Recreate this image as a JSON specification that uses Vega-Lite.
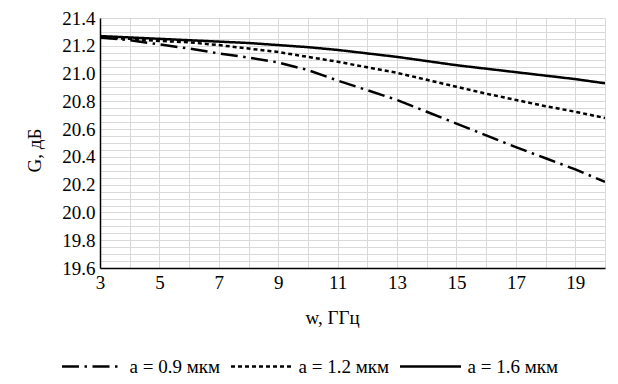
{
  "$schema": "https://vega.github.io/schema/vega-lite/v6.json",
  "width": 505,
  "height": 250,
  "autosize": {"type": "none"},
  "padding": {"left": 100, "top": 18, "right": 13, "bottom": 116},
  "background": "white",
  "config": {
    "view": {"stroke": null},
    "font": "Liberation Serif",
    "axis": {
      "labelFont": "Liberation Serif",
      "labelFontSize": 19,
      "labelColor": "black",
      "titleFont": "Liberation Serif",
      "titleFontSize": 19,
      "titleFontWeight": "normal",
      "titleColor": "black",
      "ticks": false,
      "gridColor": "#d9d9d9",
      "gridWidth": 1,
      "gridOpacity": 1,
      "domainColor": "black",
      "domainWidth": 1.5
    },
    "legend": {
      "labelFont": "Liberation Serif",
      "labelFontSize": 19,
      "labelColor": "black"
    }
  },
  "data": {
    "values": [
      {"w": 3, "G": 21.26, "s": "a = 0.9 мкм"},
      {"w": 4, "G": 21.24, "s": "a = 0.9 мкм"},
      {"w": 5, "G": 21.21, "s": "a = 0.9 мкм"},
      {"w": 6, "G": 21.18, "s": "a = 0.9 мкм"},
      {"w": 7, "G": 21.145, "s": "a = 0.9 мкм"},
      {"w": 8, "G": 21.115, "s": "a = 0.9 мкм"},
      {"w": 9, "G": 21.08, "s": "a = 0.9 мкм"},
      {"w": 10, "G": 21.025, "s": "a = 0.9 мкм"},
      {"w": 11, "G": 20.95, "s": "a = 0.9 мкм"},
      {"w": 12, "G": 20.88, "s": "a = 0.9 мкм"},
      {"w": 13, "G": 20.81, "s": "a = 0.9 мкм"},
      {"w": 14, "G": 20.725, "s": "a = 0.9 мкм"},
      {"w": 15, "G": 20.64, "s": "a = 0.9 мкм"},
      {"w": 16, "G": 20.555, "s": "a = 0.9 мкм"},
      {"w": 17, "G": 20.47, "s": "a = 0.9 мкм"},
      {"w": 18, "G": 20.39, "s": "a = 0.9 мкм"},
      {"w": 19, "G": 20.31, "s": "a = 0.9 мкм"},
      {"w": 20, "G": 20.22, "s": "a = 0.9 мкм"},
      {"w": 3, "G": 21.26, "s": "a = 1.2 мкм"},
      {"w": 4, "G": 21.25, "s": "a = 1.2 мкм"},
      {"w": 5, "G": 21.235, "s": "a = 1.2 мкм"},
      {"w": 6, "G": 21.225, "s": "a = 1.2 мкм"},
      {"w": 7, "G": 21.205, "s": "a = 1.2 мкм"},
      {"w": 8, "G": 21.18, "s": "a = 1.2 мкм"},
      {"w": 9, "G": 21.155, "s": "a = 1.2 мкм"},
      {"w": 10, "G": 21.12, "s": "a = 1.2 мкм"},
      {"w": 11, "G": 21.085, "s": "a = 1.2 мкм"},
      {"w": 12, "G": 21.045, "s": "a = 1.2 мкм"},
      {"w": 13, "G": 21.005, "s": "a = 1.2 мкм"},
      {"w": 14, "G": 20.955, "s": "a = 1.2 мкм"},
      {"w": 15, "G": 20.905, "s": "a = 1.2 мкм"},
      {"w": 16, "G": 20.855, "s": "a = 1.2 мкм"},
      {"w": 17, "G": 20.81, "s": "a = 1.2 мкм"},
      {"w": 18, "G": 20.765, "s": "a = 1.2 мкм"},
      {"w": 19, "G": 20.725, "s": "a = 1.2 мкм"},
      {"w": 20, "G": 20.68, "s": "a = 1.2 мкм"},
      {"w": 3, "G": 21.27, "s": "a = 1.6 мкм"},
      {"w": 4, "G": 21.26, "s": "a = 1.6 мкм"},
      {"w": 5, "G": 21.25, "s": "a = 1.6 мкм"},
      {"w": 6, "G": 21.24, "s": "a = 1.6 мкм"},
      {"w": 7, "G": 21.23, "s": "a = 1.6 мкм"},
      {"w": 8, "G": 21.22, "s": "a = 1.6 мкм"},
      {"w": 9, "G": 21.205, "s": "a = 1.6 мкм"},
      {"w": 10, "G": 21.19, "s": "a = 1.6 мкм"},
      {"w": 11, "G": 21.17, "s": "a = 1.6 мкм"},
      {"w": 12, "G": 21.145, "s": "a = 1.6 мкм"},
      {"w": 13, "G": 21.12, "s": "a = 1.6 мкм"},
      {"w": 14, "G": 21.09, "s": "a = 1.6 мкм"},
      {"w": 15, "G": 21.06, "s": "a = 1.6 мкм"},
      {"w": 16, "G": 21.035, "s": "a = 1.6 мкм"},
      {"w": 17, "G": 21.01, "s": "a = 1.6 мкм"},
      {"w": 18, "G": 20.985, "s": "a = 1.6 мкм"},
      {"w": 19, "G": 20.96, "s": "a = 1.6 мкм"},
      {"w": 20, "G": 20.93, "s": "a = 1.6 мкм"}
    ]
  },
  "mark": {"type": "line", "color": "black", "strokeWidth": 2.5, "clip": true},
  "encoding": {
    "x": {
      "field": "w",
      "type": "quantitative",
      "scale": {"domain": [3, 20], "nice": false, "zero": false},
      "axis": {
        "title": "w, ГГц",
        "values": [3,3.5,4,4.5,5,5.5,6,6.5,7,7.5,8,8.5,9,9.5,10,10.5,11,11.5,12,12.5,13,13.5,14,14.5,15,15.5,16,16.5,17,17.5,18,18.5,19,19.5,20],
        "format": "d",
        "labelExpr": "(datum.value % 2 == 1) ? datum.label : ''",
        "labelPadding": 5,
        "labelFlush": false,
        "labelOverlap": false,
        "titleX": 232,
        "titleY": 49,
        "titleBaseline": "middle"
      }
    },
    "y": {
      "field": "G",
      "type": "quantitative",
      "scale": {"domain": [19.6, 21.4], "nice": false, "zero": false},
      "axis": {
        "title": "G, дБ",
        "values": [19.6,19.65,19.7,19.75,19.8,19.85,19.9,19.95,20,20.05,20.1,20.15,20.2,20.25,20.3,20.35,20.4,20.45,20.5,20.55,20.6,20.65,20.7,20.75,20.8,20.85,20.9,20.95,21,21.05,21.1,21.15,21.2,21.25,21.3,21.35,21.4],
        "format": ".1f",
        "labelExpr": "(round(datum.value * 100) % 20 == 0) ? datum.label : ''",
        "labelPadding": 5,
        "labelFlush": false,
        "labelOverlap": false,
        "titleX": -65.5,
        "titleY": 132,
        "titleBaseline": "middle"
      }
    },
    "strokeDash": {
      "field": "s",
      "type": "nominal",
      "scale": {
        "domain": ["a = 0.9 мкм", "a = 1.2 мкм", "a = 1.6 мкм"],
        "range": [[17, 5.5, 2.5, 5.5], [4, 3], [1, 0]]
      },
      "legend": {
        "title": null,
        "orient": "none",
        "direction": "horizontal",
        "legendX": -39.5,
        "legendY": 316.5,
        "symbolType": "stroke",
        "symbolSize": 3721,
        "symbolStrokeWidth": 2.5,
        "symbolStrokeColor": "black",
        "labelOffset": 5,
        "columnPadding": 5
      }
    }
  }
}
